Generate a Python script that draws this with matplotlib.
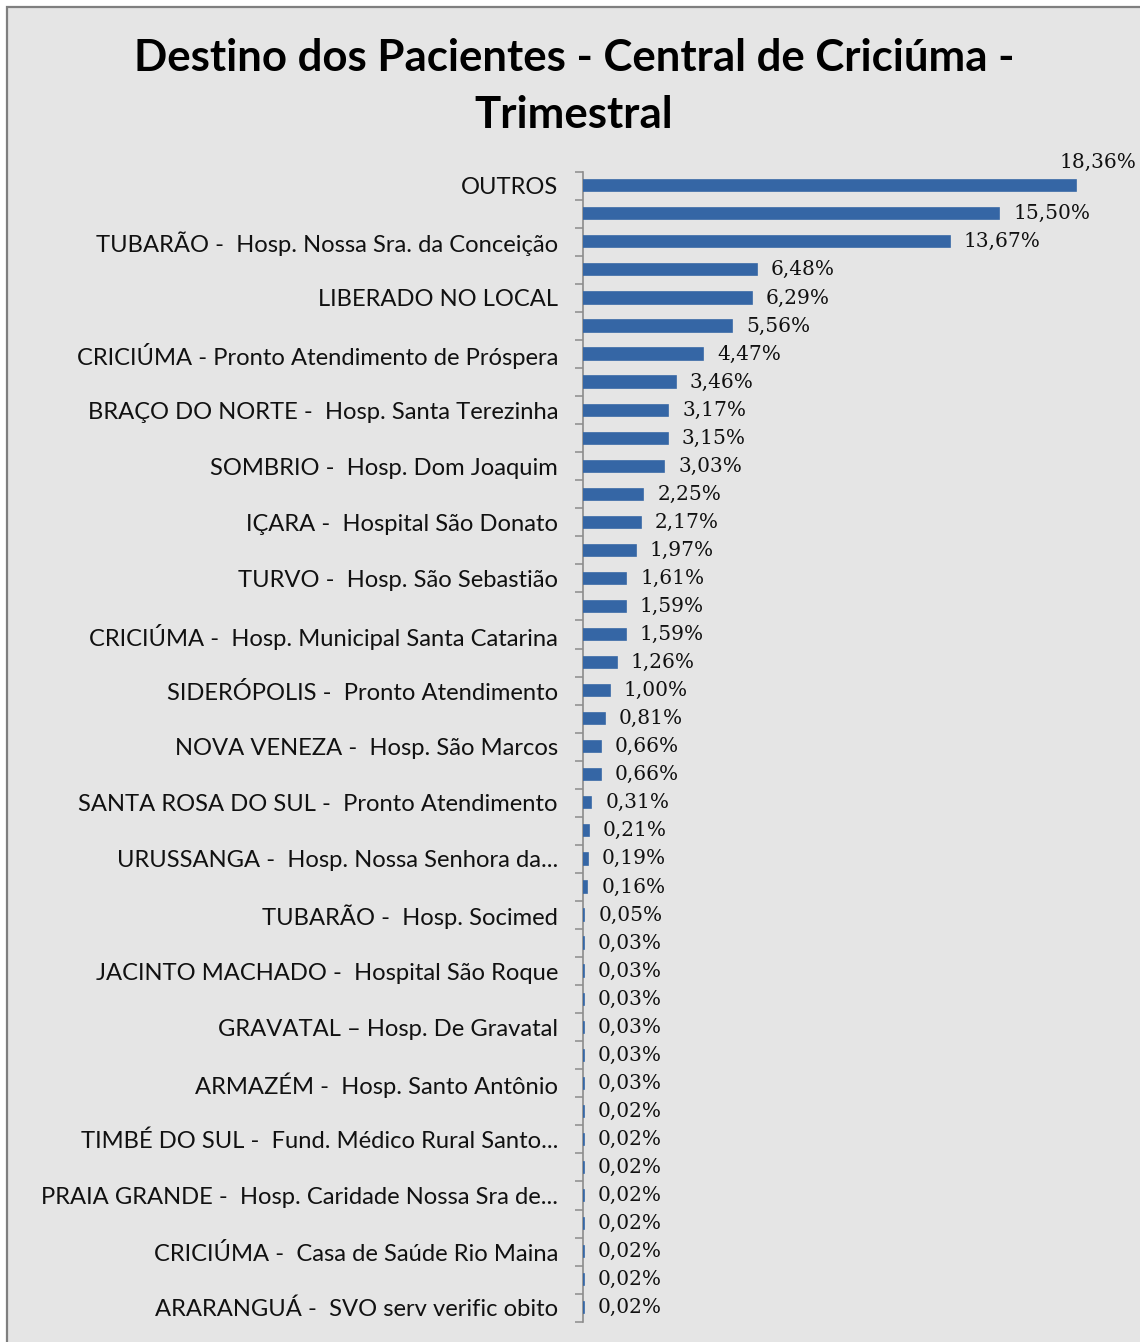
import matplotlib
matplotlib.use("Agg")
import matplotlib.pyplot as plt
from matplotlib.patches import Rectangle
from matplotlib.ticker import FixedLocator
from matplotlib.transforms import ScaledTranslation
import numpy as np

title_lines = ["Destino dos Pacientes - Central de Criciúma -", "Trimestral"]

categories = [
    "OUTROS", "",
    "TUBARÃO -  Hosp. Nossa Sra. da Conceição", "",
    "LIBERADO NO LOCAL", "",
    "CRICIÚMA - Pronto Atendimento de Próspera", "",
    "BRAÇO DO NORTE -  Hosp. Santa Terezinha", "",
    "SOMBRIO -  Hosp. Dom Joaquim", "",
    "IÇARA -  Hospital São Donato", "",
    "TURVO -  Hosp. São Sebastião", "",
    "CRICIÚMA -  Hosp. Municipal Santa Catarina", "",
    "SIDERÓPOLIS -  Pronto Atendimento", "",
    "NOVA VENEZA -  Hosp. São Marcos", "",
    "SANTA ROSA DO SUL -  Pronto Atendimento", "",
    "URUSSANGA -  Hosp. Nossa Senhora da...", "",
    "TUBARÃO -  Hosp. Socimed", "",
    "JACINTO MACHADO -  Hospital São Roque", "",
    "GRAVATAL – Hosp. De Gravatal", "",
    "ARMAZÉM -  Hosp. Santo Antônio", "",
    "TIMBÉ DO SUL -  Fund. Médico Rural Santo...", "",
    "PRAIA GRANDE -  Hosp. Caridade Nossa Sra de...", "",
    "CRICIÚMA -  Casa de Saúde Rio Maina", "",
    "ARARANGUÁ -  SVO serv verific obito",
]

values = [
    18.36, 15.50, 13.67, 6.48, 6.29, 5.56, 4.47, 3.46, 3.17, 3.15,
    3.03, 2.25, 2.17, 1.97, 1.61, 1.59, 1.59, 1.26, 1.00, 0.81,
    0.66, 0.66, 0.31, 0.21, 0.19, 0.16, 0.05, 0.03, 0.03, 0.03,
    0.03, 0.03, 0.03, 0.02, 0.02, 0.02, 0.02, 0.02, 0.02, 0.02,
    0.02,
]

W, H = 1140, 1342
fig = plt.figure(figsize=(W / 100, H / 100), dpi=100)
fig.patch.set_facecolor("white")

# gray chart area with border
panel = Rectangle((7 / W, -0.01), 1.1, 1 - 7 / H + 0.01, transform=fig.transFigure,
                  facecolor="#e5e5e5", edgecolor="#7f7f7f", linewidth=1.6, zorder=-10)
fig.patches.append(panel)

ax = fig.add_axes([583 / W, 1 - 1321.7 / H, (1120 - 583) / W, (1321.7 - 171.7) / H])
ax.set_facecolor("none")
ax.set_zorder(5)

n = len(values)
y = np.arange(n)
ax.barh(y, values, height=0.40, color="#3566a5", edgecolor="#3566a5",
        linewidth=1.2, zorder=3)
ax.set_xlim(0, 20)
ax.set_ylim(n - 0.5, -0.5)

for sp in ["top", "right", "bottom"]:
    ax.spines[sp].set_visible(False)
ax.spines["left"].set_color("#8c8c8c")
ax.spines["left"].set_linewidth(1.2)
ax.spines["left"].set_zorder(2)
ax.set_xticks([])

ax.set_yticks(y)
ax.set_yticklabels(categories, fontsize=17.1, family="Lato", color="#111111")
shift = ScaledTranslation(0, 2.5 / 100, fig.dpi_scale_trans)
for lab in ax.get_yticklabels():
    lab.set_verticalalignment("center_baseline")
    lab.set_transform(lab.get_transform() + shift)
ax.tick_params(axis="y", which="major", length=0, pad=18)
ax.yaxis.set_minor_locator(FixedLocator(np.arange(n + 1) - 0.5))
ax.tick_params(axis="y", which="minor", length=6, width=1.1, color="#8c8c8c")

vmax = max(values)
for i, v in enumerate(values):
    txt = f"{v:.2f}%".replace(".", ",")
    if v == vmax:
        ax.annotate(txt, (v, i), xytext=(16, 17), textcoords="offset points",
                    ha="center", va="center", fontsize=14.5, family="DejaVu Serif",
                    color="#111111")
    else:
        ax.annotate(txt, (v, i), xytext=(10, 0), textcoords="offset points",
                    ha="left", va="center", fontsize=14.5, family="DejaVu Serif",
                    color="#111111")

for line, yc in zip(title_lines, [58, 115]):
    fig.text(574 / W, 1 - yc / H, line, ha="center", va="center", fontsize=31.5,
             fontweight="bold", family="Lato", color="black")

fig.savefig("out.png", dpi=100, facecolor=fig.get_facecolor())
